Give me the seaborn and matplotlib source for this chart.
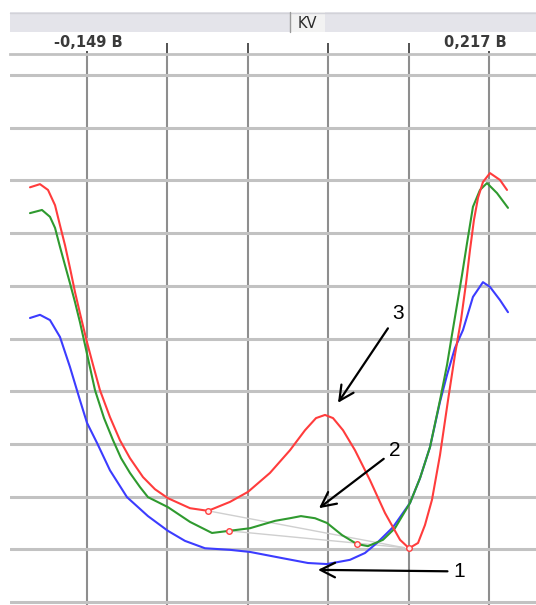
import matplotlib
matplotlib.use("Agg")
import matplotlib.pyplot as plt
from matplotlib.patches import Rectangle
import seaborn as sns
import pandas as pd

# x in volts, y in screen divisions (0 = bottom grid line)
red_x = [-0.2009, -0.1918, -0.1845, -0.1781, -0.1736, -0.1690, -0.1645, -0.1599, -0.1554, -0.1490,
         -0.1435, -0.1372, -0.1281, -0.1190, -0.1099, -0.0980, -0.0871, -0.0753, -0.0552, -0.0388,
         -0.0188, -0.0024, 0.0176, 0.0358, 0.0495, 0.0595, 0.0677, 0.0750, 0.0841, 0.0950,
         0.1087, 0.1223, 0.1360, 0.1442, 0.1524, 0.1587, 0.1651, 0.1724, 0.1797, 0.1860,
         0.1915, 0.1961, 0.1997, 0.2033, 0.2070, 0.2115, 0.2179, 0.2270, 0.2334]
red_y = [7.87, 7.93, 7.82, 7.53, 7.15, 6.77, 6.34, 5.88, 5.48, 4.93,
         4.50, 4.02, 3.51, 3.07, 2.73, 2.37, 2.14, 1.97, 1.78, 1.73,
         1.90, 2.09, 2.45, 2.88, 3.26, 3.49, 3.55, 3.49, 3.26, 2.88,
         2.31, 1.69, 1.18, 1.02, 1.12, 1.46, 1.94, 2.79, 3.83, 4.69,
         5.35, 6.05, 6.68, 7.25, 7.67, 7.97, 8.14, 8.01, 7.82]

green_x = [-0.2009, -0.1900, -0.1827, -0.1781, -0.1736, -0.1690, -0.1645, -0.1599, -0.1554, -0.1508,
           -0.1417, -0.1335, -0.1253, -0.1180, -0.1099, -0.1007, -0.0935, -0.0753, -0.0552, -0.0352,
           -0.0197, -0.0006, 0.0222, 0.0358, 0.0458, 0.0586, 0.0695, 0.0832, 0.0968, 0.1068,
           0.1205, 0.1314, 0.1451, 0.1542, 0.1633, 0.1724, 0.1788, 0.1833, 0.1879, 0.1924,
           0.1970, 0.2024, 0.2088, 0.2152, 0.2243, 0.2343]
green_y = [7.38, 7.44, 7.31, 7.10, 6.74, 6.39, 6.05, 5.69, 5.31, 4.88,
           4.02, 3.49, 3.07, 2.73, 2.45, 2.18, 1.99, 1.80, 1.52, 1.31,
           1.35, 1.40, 1.54, 1.59, 1.63, 1.59, 1.50, 1.27, 1.10, 1.06,
           1.18, 1.40, 1.88, 2.35, 2.94, 3.83, 4.50, 5.07, 5.64, 6.20,
           6.81, 7.50, 7.82, 7.95, 7.76, 7.48]

blue_x = [-0.2009, -0.1918, -0.1827, -0.1736, -0.1645, -0.1554, -0.1490, -0.1399, -0.1281, -0.1126,
          -0.0935, -0.0753, -0.0598, -0.0416, -0.0188, -0.0006, 0.0294, 0.0522, 0.0695, 0.0904,
          0.1041, 0.1150, 0.1296, 0.1451, 0.1542, 0.1633, 0.1724, 0.1788, 0.1860, 0.1933,
          0.2024, 0.2115, 0.2179, 0.2270, 0.2343]
blue_y = [5.39, 5.45, 5.35, 5.03, 4.46, 3.83, 3.40, 3.02, 2.50, 1.99,
          1.63, 1.35, 1.16, 1.02, 0.99, 0.95, 0.83, 0.74, 0.72, 0.80,
          0.93, 1.12, 1.42, 1.88, 2.35, 2.94, 3.80, 4.31, 4.82, 5.16,
          5.79, 6.07, 5.98, 5.73, 5.50]

# small cursor markers and the faint lines joining them
marker_x = [-0.0388, -0.0197, 0.0968, 0.1442]
marker_y = [1.73, 1.35, 1.10, 1.02]
link_from = [(-0.0388, 1.73), (-0.0197, 1.35)]
link_to = (0.140, 1.03)

# curve numbers: label, text position, arrow tip
labels = ["3", "2", "1"]
label_pos = [(0.1342, 5.48), (0.1314, 2.88), (0.1900, 0.58)]
arrow_tip = [(0.0795, 3.78), (0.0622, 1.78), (0.0613, 0.61)]

x_grid = [-0.149, -0.0758, -0.0026, 0.0706, 0.1438, 0.217]
x_end_labels = ["-0,149 B", "0,217 B"]
y_grid = list(range(11))
header_title = "KV"

sns.set_style("white")
plt.rcParams["font.family"] = ["Liberation Sans", "DejaVu Sans"]

W, H = 536, 605
fig = plt.figure(figsize=(W / 100, H / 100), dpi=100)

# header strip drawn in pixel coordinates
hdr = fig.add_axes([0, 0, 1, 1])
hdr.set_xlim(0, W)
hdr.set_ylim(H, 0)
hdr.axis("off")
hdr.add_patch(Rectangle((10, 12), W - 10, 20, color="#e4e4ea", lw=0))
hdr.plot([10, W], [12.5, 12.5], color="#d2d2d8", lw=1)
hdr.add_patch(Rectangle((290, 12), 35, 20, color="#f2f2f2", lw=0))
hdr.plot([290, 290], [12, 32], color="#9a9a9a", lw=1)
hdr.text(307, 23, header_title, ha="center", va="center", fontsize=10.5,
         color="#2a2a2a", family=["DejaVu Sans"])

# main plot area
ax = fig.add_axes([10 / W, 0, (W - 10) / W, (H - 54) / H])
ax.set_xlim(-0.2191, 0.2598)
ax.set_ylim(-0.057, 10.40)

ax.set_xticks(x_grid[1:-1])
ax.set_xticks([x_grid[0], x_grid[-1]], minor=True)
ax.set_yticks(y_grid)
ax.xaxis.set_ticks_position("top")
ax.tick_params(axis="x", which="major", length=8, width=1.3, color="#444444",
               labeltop=False, labelbottom=False)
ax.tick_params(axis="x", which="minor", length=2, width=1.3, color="#444444",
               labeltop=False, labelbottom=False)
ax.tick_params(axis="y", left=False, labelleft=False)
ax.xaxis.grid(True, which="both", color="#8e8e8e", lw=1.5)
ax.yaxis.grid(True, color="#c2c2c2", lw=2.2)
ax.set_axisbelow(True)
for side in ["left", "right", "bottom"]:
    ax.spines[side].set_visible(False)
ax.spines["top"].set_color("#c2c2c2")
ax.spines["top"].set_linewidth(2)

top_tr = ax.get_xaxis_transform()
ax.text(x_grid[0] + 0.0015, 1 + 12 / 551, x_end_labels[0], transform=top_tr,
        ha="center", va="center", fontsize=10.5, fontweight="bold",
        color="#3a3a3a", family=["DejaVu Sans"])
ax.text(x_grid[-1] - 0.012, 1 + 12 / 551, x_end_labels[1], transform=top_tr,
        ha="center", va="center", fontsize=10.5, fontweight="bold",
        color="#3a3a3a", family=["DejaVu Sans"])

# faint link lines
for p in link_from:
    ax.plot([p[0], link_to[0]], [p[1], link_to[1]], color="#cfcfcf", lw=1, zorder=2)

curves = pd.concat([
    pd.DataFrame({"x": blue_x, "y": blue_y, "curve": "1"}),
    pd.DataFrame({"x": green_x, "y": green_y, "curve": "2"}),
    pd.DataFrame({"x": red_x, "y": red_y, "curve": "3"}),
])
sns.lineplot(data=curves, x="x", y="y", hue="curve", sort=False, estimator=None,
             palette={"1": "#3c3cff", "2": "#2f9a2f", "3": "#ff3c3c"},
             lw=1.5, legend=False, ax=ax, zorder=3)
ax.set_xlabel("")
ax.set_ylabel("")

ax.plot(marker_x, marker_y, "o", ms=4, mfc="#ffecec", mec="#ff4040", mew=1, zorder=4)

for lab, pos, tip in zip(labels, label_pos, arrow_tip):
    ax.annotate(lab, xy=tip, xytext=pos, ha="center", va="center", fontsize=15,
                color="black", zorder=5,
                arrowprops=dict(arrowstyle="->,head_length=0.7,head_width=0.35",
                                color="black", lw=1.6, shrinkA=2, shrinkB=0))

fig.savefig("out.png", dpi=100)
